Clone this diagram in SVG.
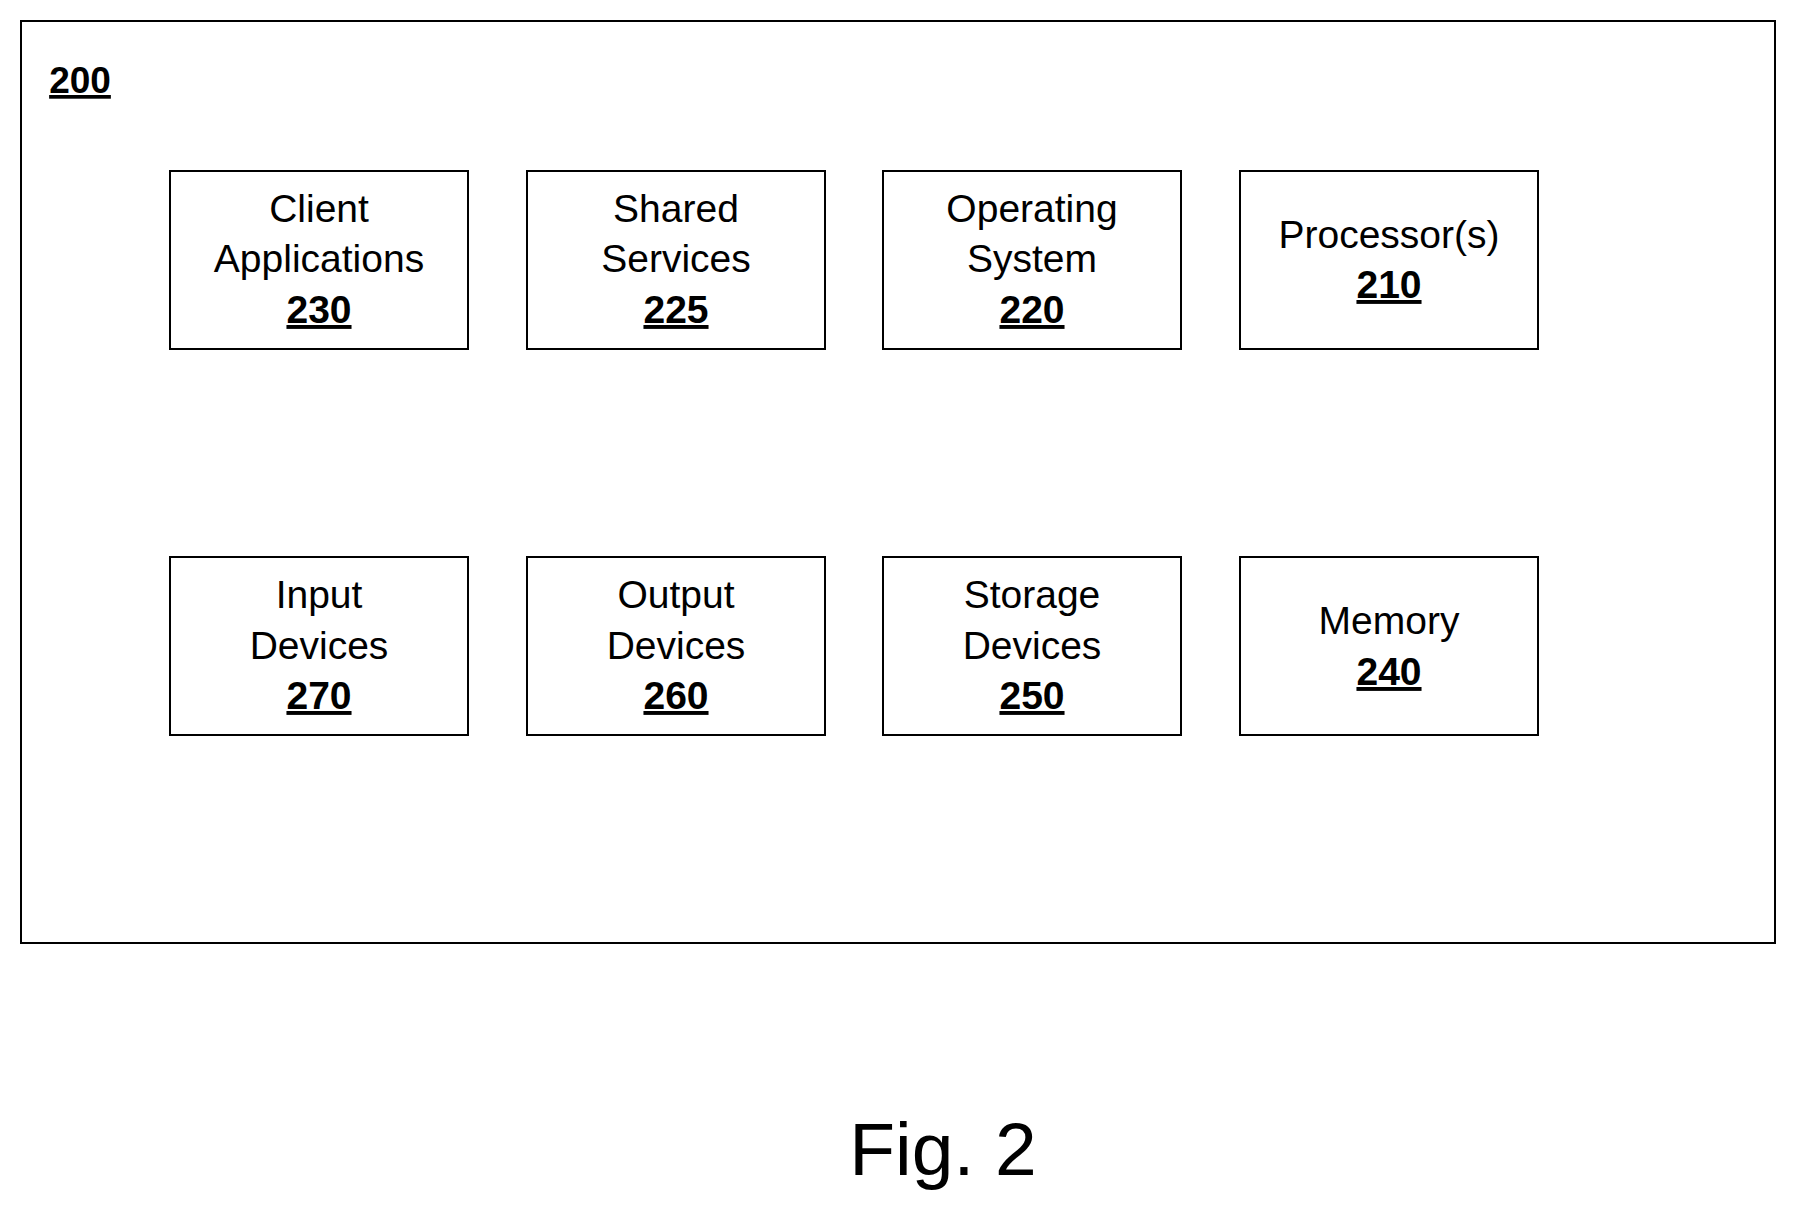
<svg xmlns="http://www.w3.org/2000/svg" width="1798" height="1213" viewBox="0 0 1798 1213">
<style>
rect{fill:#fff;stroke:#000;stroke-width:2}
text{font-family:"Liberation Sans",Arial,sans-serif;font-size:39px;text-anchor:middle;fill:#000}
.n{font-weight:bold;text-decoration:underline}
</style>
<rect x="0" y="0" width="1798" height="1213" style="stroke:none"/>
<g id="frame"><rect x="21" y="21" width="1754" height="922"/>
<text x="80" y="93" class="n" style="font-size:37px">200</text></g>
<g id="n230"><rect x="170" y="171" width="298" height="178"/><text x="319" y="222">Client</text><text x="319" y="272">Applications</text><text x="319" y="323" class="n">230</text></g>
<g id="n225"><rect x="527" y="171" width="298" height="178"/><text x="676" y="222">Shared</text><text x="676" y="272">Services</text><text x="676" y="323" class="n">225</text></g>
<g id="n220"><rect x="883" y="171" width="298" height="178"/><text x="1032" y="222">Operating</text><text x="1032" y="272">System</text><text x="1032" y="323" class="n">220</text></g>
<g id="n210"><rect x="1240" y="171" width="298" height="178"/><text x="1389" y="248">Processor(s)</text><text x="1389" y="298" class="n">210</text></g>
<g id="n270"><rect x="170" y="557" width="298" height="178"/><text x="319" y="608">Input</text><text x="319" y="659">Devices</text><text x="319" y="709" class="n">270</text></g>
<g id="n260"><rect x="527" y="557" width="298" height="178"/><text x="676" y="608">Output</text><text x="676" y="659">Devices</text><text x="676" y="709" class="n">260</text></g>
<g id="n250"><rect x="883" y="557" width="298" height="178"/><text x="1032" y="608">Storage</text><text x="1032" y="659">Devices</text><text x="1032" y="709" class="n">250</text></g>
<g id="n240"><rect x="1240" y="557" width="298" height="178"/><text x="1389" y="634">Memory</text><text x="1389" y="685" class="n">240</text></g>
<g id="connectors"/>
<text x="943" y="1175" style="font-size:75px">Fig. 2</text>
</svg>
